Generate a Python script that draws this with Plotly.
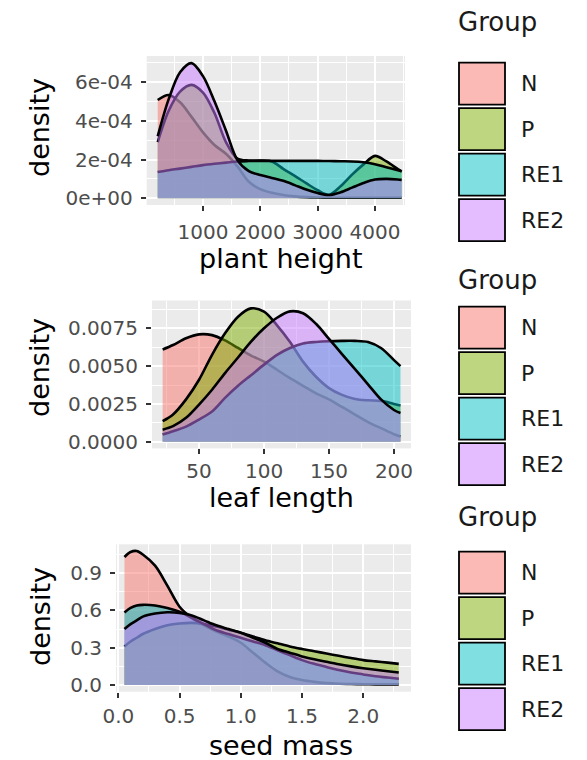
import plotly.graph_objects as go

# ---------------- data ----------------
groups = ["N", "P", "RE1", "RE2"]
group_colors = ["#F8766D", "#7CAE00", "#00BFC4", "#C77CFF"]

# plant height densities
height_x = [210, 400, 600, 800, 1000, 1200, 1400, 1600, 1800, 2000, 2200, 2400,
            2600, 2800, 3000, 3200, 3400, 3600, 3800, 4000, 4200, 4400, 4466]
height_N = [5.07e-4, 5.33e-4, 4.95e-4, 4.2e-4, 3.4e-4, 2.75e-4, 2.3e-4, 1.65e-4, 0.85e-4,
            0.47e-4, 0.28e-4, 0.17e-4, 0.10e-4, 0.06e-4, 0.04e-4, 0.03e-4, 0.03e-4,
            0.03e-4, 0.03e-4, 0.03e-4, 0.03e-4, 0.03e-4, 0.03e-4]
height_P = [2.9e-4, 4.5e-4, 5.5e-4, 5.85e-4, 5.45e-4, 4.4e-4, 2.9e-4, 2.05e-4, 1.95e-4,
            1.95e-4, 1.9e-4, 1.52e-4, 1.16e-4, 0.78e-4, 0.42e-4, 0.18e-4, 0.62e-4,
            1.22e-4, 1.75e-4, 2.19e-4, 1.9e-4, 1.5e-4, 1.38e-4]
height_RE1 = [1.36e-4, 1.45e-4, 1.53e-4, 1.62e-4, 1.71e-4, 1.78e-4, 1.84e-4, 1.9e-4, 1.92e-4,
              1.93e-4, 1.93e-4, 1.93e-4, 1.93e-4, 1.93e-4, 1.93e-4, 1.92e-4, 1.91e-4,
              1.9e-4, 1.86e-4, 1.76e-4, 1.6e-4, 1.45e-4, 1.4e-4]
height_RE2 = [3.2e-4, 5.1e-4, 6.5e-4, 6.97e-4, 6.3e-4, 5.0e-4, 3.5e-4, 1.97e-4, 1.4e-4,
              1.2e-4, 1.05e-4, 0.9e-4, 0.68e-4, 0.45e-4, 0.27e-4, 0.17e-4, 0.31e-4,
              0.55e-4, 0.79e-4, 0.97e-4, 1.0e-4, 0.97e-4, 0.95e-4]

# leaf length densities
leaf_x = [22, 30, 40, 50, 60, 70, 80, 90, 100, 110, 120, 130, 140, 150, 160, 170,
          180, 190, 200, 205]
leaf_N = [0.0061, 0.0064, 0.00684, 0.0071, 0.00705, 0.0067, 0.0062, 0.0057, 0.0053,
          0.00476, 0.0042, 0.0037, 0.0032, 0.0028, 0.0023, 0.0018, 0.0013, 0.0009,
          0.0005, 0.00035]
leaf_P = [0.00136, 0.0018, 0.0028, 0.0041, 0.00575, 0.00717, 0.00827, 0.00882, 0.0086,
          0.0077, 0.0066, 0.0053, 0.0043, 0.00355, 0.0031, 0.00283, 0.00274, 0.0027,
          0.0025, 0.0024]
leaf_RE1 = [0.00048, 0.0007, 0.001, 0.00147, 0.002, 0.0029, 0.0037, 0.0044, 0.0051,
            0.00575, 0.0062, 0.0065, 0.0066, 0.00665, 0.00667, 0.00667, 0.0066, 0.0062,
            0.0054, 0.005]
leaf_RE2 = [0.0008, 0.00103, 0.00158, 0.00246, 0.00344, 0.00454, 0.00557, 0.00662,
            0.0075, 0.0082, 0.00862, 0.0085, 0.0078, 0.0068, 0.0058, 0.0048, 0.0038,
            0.0028, 0.0021, 0.0019]

# seed mass densities
seed_x = [0.05, 0.1, 0.15, 0.2, 0.3, 0.4, 0.5, 0.6, 0.7, 0.8, 0.9, 1.0, 1.1, 1.2, 1.3,
          1.4, 1.5, 1.6, 1.7, 1.8, 1.9, 2.0, 2.1, 2.2, 2.29]
seed_N = [1.03, 1.07, 1.078, 1.05, 0.96, 0.8, 0.63, 0.54, 0.48, 0.43, 0.39, 0.34, 0.26,
          0.18, 0.11, 0.065, 0.04, 0.025, 0.015, 0.01, 0.008, 0.006, 0.005, 0.005, 0.005]
seed_P = [0.31, 0.35, 0.38, 0.41, 0.45, 0.48, 0.495, 0.5, 0.49, 0.47, 0.445, 0.42, 0.39,
          0.36, 0.335, 0.31, 0.29, 0.272, 0.253, 0.235, 0.217, 0.2, 0.19, 0.18, 0.17]
seed_RE1 = [0.584, 0.62, 0.64, 0.645, 0.64, 0.62, 0.59, 0.54, 0.49, 0.44, 0.41, 0.38,
            0.35, 0.32, 0.28, 0.24, 0.2, 0.17, 0.145, 0.12, 0.1, 0.085, 0.07, 0.06, 0.05]
seed_RE2 = [0.45, 0.49, 0.52, 0.55, 0.575, 0.585, 0.58, 0.56, 0.52, 0.48, 0.45, 0.42,
            0.38, 0.34, 0.29, 0.26, 0.23, 0.207, 0.187, 0.167, 0.15, 0.135, 0.122, 0.11, 0.1]

# tick labels
height_xticks = [1000, 2000, 3000, 4000]
height_yticks = [0, 2e-4, 4e-4, 6e-4]
height_ytext = ["0e+00", "2e-04", "4e-04", "6e-04"]
leaf_xticks = [50, 100, 150, 200]
leaf_yticks = [0, 0.0025, 0.005, 0.0075]
leaf_ytext = ["0.0000", "0.0025", "0.0050", "0.0075"]
seed_xticks = [0.0, 0.5, 1.0, 1.5, 2.0]
seed_xtext = ["0.0", "0.5", "1.0", "1.5", "2.0"]
seed_yticks = [0.0, 0.3, 0.6, 0.9]
seed_ytext = ["0.0", "0.3", "0.6", "0.9"]

x_titles = ["plant height", "leaf length", "seed mass"]
legend_title = "Group"

# ---------------- layout helpers ----------------
W, H = 587, 760
FONT = "DejaVu Sans"


def fx(p):
    return p / W


def fy(p):
    return 1 - p / H


def rgba(hexc, a):
    h = hexc.lstrip("#")
    return "rgba(%d,%d,%d,%s)" % (int(h[0:2], 16), int(h[2:4], 16), int(h[4:6], 16), a)


fig = go.Figure()

panels = [
    dict(x=height_x, ys=[height_N, height_P, height_RE1, height_RE2], xa="x", ya="y"),
    dict(x=leaf_x, ys=[leaf_N, leaf_P, leaf_RE1, leaf_RE2], xa="x2", ya="y2"),
    dict(x=seed_x, ys=[seed_N, seed_P, seed_RE1, seed_RE2], xa="x3", ya="y3"),
]
for p in panels:
    for g, c, ys in zip(groups, group_colors, p["ys"]):
        fig.add_trace(go.Scatter(
            x=p["x"], y=ys, name=g, xaxis=p["xa"], yaxis=p["ya"], mode="lines",
            line=dict(color="black", width=2.6, shape="spline", smoothing=0.9),
            fill="tozeroy", fillcolor=rgba(c, 0.5), showlegend=False, hoverinfo="skip"))

tickfont = dict(family=FONT, size=20, color="#4D4D4D")


def xax(dom, rng, tv, tt, minor_vals, anchor, standoff):
    return dict(domain=[fx(dom[0]), fx(dom[1])], range=rng, anchor=anchor,
                tickmode="array", tickvals=tv, ticktext=tt,
                showgrid=True, gridcolor="white", gridwidth=1.8,
                minor=dict(tickmode="array", tickvals=minor_vals, showgrid=True,
                           gridcolor="white", gridwidth=0.9, ticks=""),
                ticks="outside", ticklen=5, tickwidth=1.5, tickcolor="#333333",
                tickfont=tickfont, ticklabelstandoff=standoff,
                showline=False, zeroline=False, fixedrange=True)


def yax(dom, rng, tv, tt, minor_vals, anchor):
    return dict(domain=[fy(dom[1]), fy(dom[0])], range=rng, anchor=anchor,
                tickmode="array", tickvals=tv, ticktext=tt,
                showgrid=True, gridcolor="white", gridwidth=1.8,
                minor=dict(tickmode="array", tickvals=minor_vals, showgrid=True,
                           gridcolor="white", gridwidth=0.9, ticks=""),
                ticks="outside", ticklen=5, tickwidth=1.5, tickcolor="#333333",
                tickfont=tickfont, ticklabelstandoff=4,
                showline=False, zeroline=False, fixedrange=True)


fig.update_layout(
    width=W, height=H, margin=dict(l=0, r=0, t=0, b=0),
    template="none", paper_bgcolor="white", plot_bgcolor="#EBEBEB",
    showlegend=False,
    xaxis=xax((146.7, 405), [18, 4524], height_xticks, [str(v) for v in height_xticks],
              [500, 1500, 2500, 3500, 4500], "y", 4),
    yaxis=yax((56, 205), [-0.346e-4, 7.34e-4], height_yticks, height_ytext,
              [1e-4, 3e-4, 5e-4, 7e-4], "x"),
    xaxis2=xax((152, 411), [13.8, 213.1], leaf_xticks, [str(v) for v in leaf_xticks],
               [25, 75, 125, 175], "y2", 0),
    yaxis2=yax((300.5, 448.4), [-0.00044, 0.00934], leaf_yticks, leaf_ytext,
               [0.00125, 0.00375, 0.00625, 0.00875], "x2"),
    xaxis3=xax((116, 411), [-0.019, 2.39], seed_xticks, seed_xtext,
               [0.25, 0.75, 1.25, 1.75, 2.25], "y3", 1),
    yaxis3=yax((544.3, 691.7), [-0.054, 1.132], seed_yticks, seed_ytext,
               [0.15, 0.45, 0.75, 1.05], "x3"),
)

annotations = []
shapes = []
title_font = dict(family=FONT, size=27, color="black")
# axis titles
for t, yc in zip(x_titles, [258, 497, 745]):
    annotations.append(dict(x=fx(281), y=fy(yc), xref="paper", yref="paper", text=t,
                            showarrow=False, font=title_font, xanchor="center",
                            yanchor="middle"))
for yc in [128, 368, 617]:
    annotations.append(dict(x=fx(40), y=fy(yc), xref="paper", yref="paper",
                            text="density", textangle=-90, showarrow=False,
                            font=title_font, xanchor="center", yanchor="middle"))

# legends (one per panel)
legend_title_y = [22, 280, 517]
legend_key_top = [62.7, 306.7, 551.7]
step, key_h = 45.5, 42
for ty, top in zip(legend_title_y, legend_key_top):
    annotations.append(dict(x=fx(456), y=fy(ty), xref="paper", yref="paper",
                            text=legend_title, showarrow=False,
                            font=dict(family=FONT, size=26, color="#1a1a1a"),
                            xanchor="left", yanchor="middle"))
    for i, (g, c) in enumerate(zip(groups, group_colors)):
        y0 = top + i * step
        shapes.append(dict(type="rect", xref="paper", yref="paper",
                           x0=fx(459), x1=fx(505), y0=fy(y0), y1=fy(y0 + key_h),
                           fillcolor=rgba(c, 0.5), line=dict(color="black", width=1.8)))
        annotations.append(dict(x=fx(519), y=fy(y0 + key_h / 2), xref="paper",
                                yref="paper", text=g, showarrow=False,
                                font=dict(family=FONT, size=22, color="#1a1a1a"),
                                xanchor="left", yanchor="middle"))

fig.update_layout(annotations=annotations, shapes=shapes)
fig.write_html("out.html")
